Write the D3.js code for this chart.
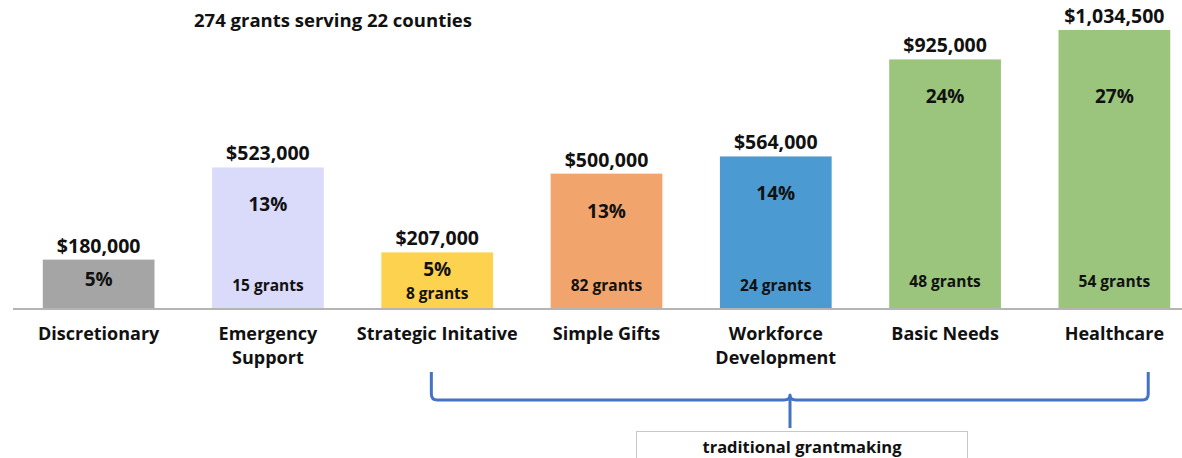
<!DOCTYPE html>
<html>
<head>
<meta charset="utf-8">
<script src="https://cdn.jsdelivr.net/npm/d3@7"></script>
<style>
  body { margin: 0; background: #fff; }
  svg { display: block; font-family: "Open Sans", Lato, sans-serif; font-weight: bold; }
</style>
</head>
<body>
<svg id="chart" width="1182" height="458"></svg>
<script>
// data
var categories = ["Discretionary", "Emergency\nSupport", "Strategic Initative", "Simple Gifts",
                  "Workforce\nDevelopment", "Basic Needs", "Healthcare"];
var amounts = [180000, 523000, 207000, 500000, 564000, 925000, 1034500];
var shares = ["5%", "13%", "5%", "13%", "14%", "24%", "27%"];
var grantCounts = [null, 15, 8, 82, 24, 48, 54];
var barColors = ["#a5a5a5", "#dadafa", "#fdd24e", "#f1a46c", "#4b9ad2", "#9bc47d", "#9bc47d"];
var title = "274 grants serving 22 counties";
var bracketLabel = "traditional grantmaking";
var bracketFrom = "Strategic Initative", bracketTo = "Healthcare";

var width = 1182, height = 458;
var baseY = 308, topY = 30;
var svg = d3.select('#chart');

var rows = categories.map(function (c, i) {
  return { cat: c, amount: amounts[i], share: shares[i], grants: grantCounts[i], color: barColors[i] };
});

var x = d3.scaleBand().domain(categories).range([14, 1199]).paddingInner(0.34).paddingOuter(0.17);
var y = d3.scaleLinear().domain([0, d3.max(amounts)]).range([baseY, topY]);
var money = d3.format("$,");

// title
svg.append('text').attr('x', 333).attr('y', 27).attr('text-anchor', 'middle')
  .attr('font-size', 18.5).attr('fill', '#111').text(title);

var g = svg.append('g');

g.selectAll('rect').data(rows).enter().append('rect')
  .attr('x', function (d) { return x(d.cat); })
  .attr('y', function (d) { return y(d.amount); })
  .attr('width', x.bandwidth())
  .attr('height', function (d) { return baseY - y(d.amount); })
  .attr('fill', function (d) { return d.color; });

// axis line
svg.append('line').attr('x1', 13).attr('x2', width).attr('y1', baseY + 1).attr('y2', baseY + 1)
  .attr('stroke', '#b4b4b4').attr('stroke-width', 2);

var mid = function (d) { return x(d.cat) + x.bandwidth() / 2; };
var short = function (d) { return baseY - y(d.amount) < 80; };

// amount labels
g.selectAll('.amt').data(rows).enter().append('text')
  .attr('class', 'amt').attr('text-anchor', 'middle').attr('font-size', 19.5).attr('fill', '#111')
  .attr('x', mid).attr('y', function (d) { return y(d.amount) - 7; })
  .text(function (d) { return money(d.amount); });

// share labels
g.selectAll('.pct').data(rows).enter().append('text')
  .attr('class', 'pct').attr('text-anchor', 'middle').attr('font-size', 19).attr('fill', '#111')
  .attr('x', mid)
  .attr('y', function (d) {
    if (short(d)) return y(d.amount) + (d.grants != null ? 24 : 26);
    return Math.max(y(d.amount) + 44, 103);
  })
  .text(function (d) { return d.share; });

// grant counts
g.selectAll('.cnt').data(rows.filter(function (d) { return d.grants != null; })).enter().append('text')
  .attr('class', 'cnt').attr('text-anchor', 'middle').attr('font-size', 15.5).attr('fill', '#111')
  .attr('x', mid)
  .attr('y', function (d) {
    if (short(d)) return 299;
    return d.amount > 800000 ? 287 : 291;
  })
  .text(function (d) { return d.grants + " grants"; });

// category labels
var cl = g.selectAll('.cat').data(rows).enter().append('text')
  .attr('class', 'cat').attr('text-anchor', 'middle').attr('font-size', 18).attr('fill', '#111')
  .attr('x', mid).attr('y', 340);
cl.selectAll('tspan').data(function (d) {
  return d.cat.split("\n").map(function (t) { return { t: t, x: mid(d) }; });
}).enter().append('tspan')
  .attr('x', function (d) { return d.x; })
  .attr('dy', function (d, i) { return i ? 24 : 0; })
  .text(function (d) { return d.t; });

// curly bracket under traditional grantmaking
var bx0 = x(bracketFrom) + 50, bx1 = x(bracketTo) + x.bandwidth() - 22;
var bm = 790, bt = 372, bh = 400, bb = 428, r = 6;
var p = d3.path();
p.moveTo(bx0, bt);
p.lineTo(bx0, bh - r);
p.quadraticCurveTo(bx0, bh, bx0 + r, bh);
p.lineTo(bm - r, bh);
p.quadraticCurveTo(bm, bh, bm, bh - 5);
p.quadraticCurveTo(bm, bh, bm, bb);
p.moveTo(bm, bh - 5);
p.quadraticCurveTo(bm, bh, bm + r, bh);
p.lineTo(bx1 - r, bh);
p.quadraticCurveTo(bx1, bh, bx1, bh - r);
p.lineTo(bx1, bt);
svg.append('path').attr('d', p.toString()).attr('fill', 'none')
  .attr('stroke', '#4472c4').attr('stroke-width', 3).attr('stroke-linejoin', 'round');

svg.append('rect').attr('x', 636.5).attr('y', 431.5).attr('width', 331).attr('height', 40)
  .attr('fill', '#fff').attr('stroke', '#c8c8c8').attr('stroke-width', 1);
svg.append('text').attr('x', 802).attr('y', 453).attr('text-anchor', 'middle')
  .attr('font-size', 16.5).attr('fill', '#111').text(bracketLabel);
</script>
</body>
</html>
